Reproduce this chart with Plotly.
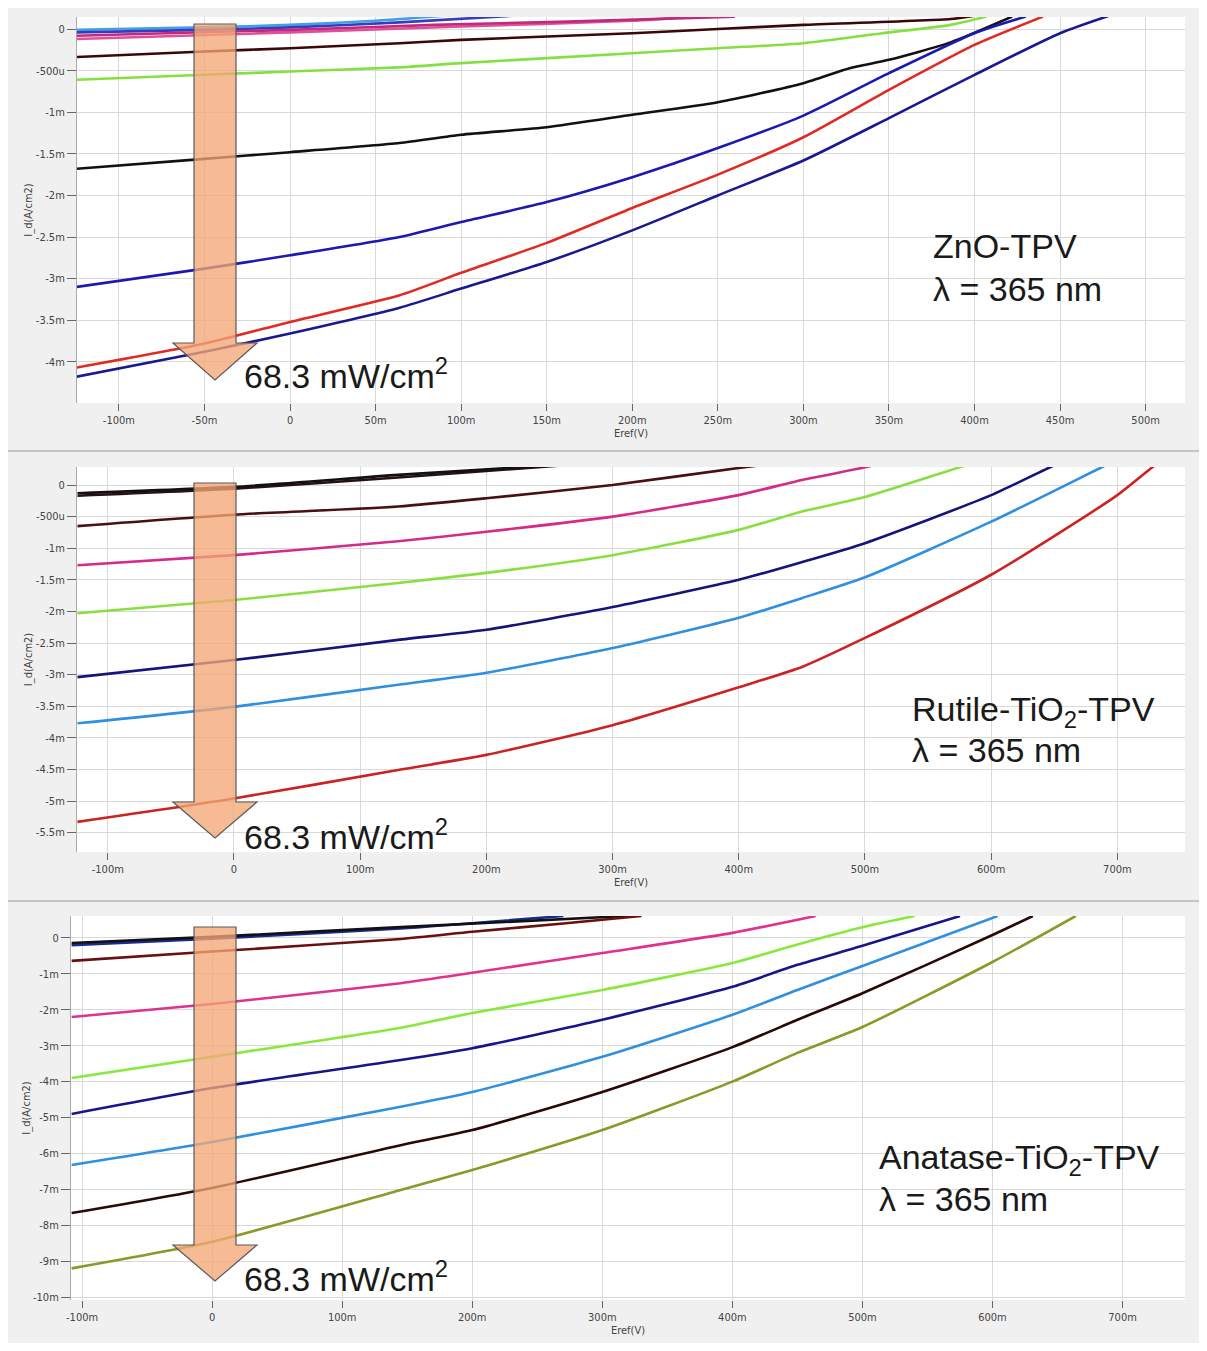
import numpy as np
import plotly.graph_objects as go

# page is 1207x1351; the html body keeps an 8px margin, so the figure is a bit smaller
PAGE_W, PAGE_H = 1207, 1351
OFF = 8
W, H = PAGE_W - 2 * OFF, PAGE_H - 2 * OFF

# ---------------- DATA (x in V, y in mA/cm2) ----------------
# ZnO-TPV panel
zno_lb_x = [-0.125, -0.05, 0.0, 0.05, 0.09]
zno_lb_y = [-0.01, 0.02, 0.05, 0.10, 0.16]
zno_bl_x = [-0.125, -0.05, 0.0, 0.064, 0.13]
zno_bl_y = [-0.04, -0.01, 0.02, 0.08, 0.16]
zno_mg_x = [-0.125, 0.0, 0.084, 0.162, 0.26]
zno_mg_y = [-0.08, -0.01, 0.05, 0.09, 0.15]
zno_pk_x = [-0.125, 0.0, 0.1, 0.2, 0.235]
zno_pk_y = [-0.12, -0.04, 0.03, 0.10, 0.15]
zno_mr_x = [-0.125, -0.05, 0.0, 0.064, 0.1, 0.2, 0.25, 0.3, 0.386, 0.40]
zno_mr_y = [-0.337, -0.27, -0.23, -0.17, -0.13, -0.05, 0.0, 0.05, 0.12, 0.16]
zno_gr_x = [-0.125, -0.05, 0.0, 0.064, 0.1, 0.2, 0.25, 0.3, 0.346, 0.386, 0.407]
zno_gr_y = [-0.61, -0.55, -0.51, -0.46, -0.41, -0.29, -0.23, -0.17, -0.05, 0.05, 0.15]
zno_bk_x = [-0.125, -0.05, 0.0, 0.064, 0.1, 0.15, 0.2, 0.25, 0.3, 0.327, 0.35, 0.386, 0.422]
zno_bk_y = [-1.68, -1.56, -1.48, -1.37, -1.27, -1.18, -1.03, -0.88, -0.65, -0.47, -0.37, -0.16, 0.15]
zno_b2_x = [-0.125, -0.05, 0.0, 0.064, 0.1, 0.15, 0.2, 0.25, 0.3, 0.35, 0.4, 0.43]
zno_b2_y = [-3.10, -2.88, -2.72, -2.50, -2.32, -2.08, -1.78, -1.43, -1.04, -0.53, -0.05, 0.15]
zno_rd_x = [-0.125, -0.05, 0.0, 0.064, 0.1, 0.15, 0.2, 0.25, 0.3, 0.35, 0.4, 0.44]
zno_rd_y = [-4.07, -3.78, -3.52, -3.20, -2.93, -2.57, -2.15, -1.75, -1.30, -0.73, -0.19, 0.15]
zno_db_x = [-0.125, -0.05, 0.0, 0.064, 0.1, 0.15, 0.2, 0.25, 0.3, 0.35, 0.4, 0.45, 0.48]
zno_db_y = [-4.18, -3.88, -3.66, -3.35, -3.12, -2.80, -2.42, -2.00, -1.58, -1.07, -0.55, -0.05, 0.17]

# Rutile-TiO2-TPV panel
ru_bk_x = [-0.124, 0.0, 0.13, 0.25]
ru_bk_y = [-0.13, -0.03, 0.16, 0.31]
ru_d2_x = [-0.124, 0.0, 0.13, 0.26]
ru_d2_y = [-0.17, -0.06, 0.12, 0.31]
ru_mr_x = [-0.124, 0.0, 0.13, 0.2, 0.3, 0.4, 0.42]
ru_mr_y = [-0.65, -0.47, -0.34, -0.21, 0.0, 0.27, 0.32]
ru_mg_x = [-0.124, 0.0, 0.13, 0.2, 0.3, 0.4, 0.45, 0.5, 0.51]
ru_mg_y = [-1.27, -1.11, -0.89, -0.74, -0.50, -0.16, 0.08, 0.28, 0.33]
ru_gr_x = [-0.124, 0.0, 0.13, 0.2, 0.3, 0.4, 0.45, 0.5, 0.575, 0.585]
ru_gr_y = [-2.03, -1.82, -1.55, -1.39, -1.11, -0.71, -0.42, -0.19, 0.28, 0.34]
ru_db_x = [-0.124, 0.0, 0.13, 0.2, 0.3, 0.4, 0.45, 0.5, 0.6, 0.647, 0.66]
ru_db_y = [-3.04, -2.77, -2.45, -2.29, -1.93, -1.50, -1.22, -0.92, -0.16, 0.285, 0.40]
ru_lb_x = [-0.124, 0.0, 0.13, 0.2, 0.3, 0.4, 0.45, 0.5, 0.6, 0.688, 0.70]
ru_lb_y = [-3.77, -3.51, -3.16, -2.97, -2.58, -2.10, -1.79, -1.46, -0.58, 0.285, 0.40]
ru_rd_x = [-0.124, 0.0, 0.13, 0.2, 0.3, 0.4, 0.45, 0.5, 0.6, 0.7, 0.728, 0.74]
ru_rd_y = [-5.33, -4.96, -4.51, -4.27, -3.80, -3.20, -2.88, -2.42, -1.42, -0.16, 0.285, 0.45]

# Anatase-TiO2-TPV panel
an_bl_x = [-0.108, 0.0, 0.145, 0.27]
an_bl_y = [-0.20, -0.02, 0.26, 0.61]
an_bk_x = [-0.108, 0.0, 0.145, 0.33]
an_bk_y = [-0.14, 0.03, 0.30, 0.63]
an_mr_x = [-0.108, 0.0, 0.145, 0.2, 0.27, 0.33]
an_mr_y = [-0.64, -0.38, -0.03, 0.17, 0.40, 0.61]
an_mg_x = [-0.108, 0.0, 0.145, 0.2, 0.3, 0.4, 0.464]
an_mg_y = [-2.20, -1.84, -1.26, -0.97, -0.42, 0.14, 0.61]
an_gr_x = [-0.108, 0.0, 0.145, 0.2, 0.3, 0.4, 0.45, 0.5, 0.54]
an_gr_y = [-3.90, -3.31, -2.50, -2.09, -1.45, -0.70, -0.18, 0.30, 0.61]
an_db_x = [-0.108, 0.0, 0.145, 0.2, 0.3, 0.4, 0.45, 0.5, 0.575]
an_db_y = [-4.90, -4.18, -3.40, -3.07, -2.28, -1.36, -0.75, -0.22, 0.61]
an_lb_x = [-0.108, 0.0, 0.145, 0.2, 0.3, 0.4, 0.45, 0.5, 0.604]
an_lb_y = [-6.32, -5.68, -4.70, -4.29, -3.31, -2.14, -1.45, -0.78, 0.61]
an_dm_x = [-0.108, 0.0, 0.145, 0.2, 0.3, 0.4, 0.45, 0.5, 0.6, 0.631]
an_dm_y = [-7.66, -6.96, -5.77, -5.35, -4.29, -3.04, -2.28, -1.54, 0.08, 0.61]
an_ol_x = [-0.108, 0.0, 0.145, 0.2, 0.3, 0.4, 0.45, 0.5, 0.6, 0.664]
an_ol_y = [-9.20, -8.46, -7.02, -6.46, -5.35, -4.00, -3.20, -2.48, -0.67, 0.61]

# tick labels
zno_xt = [-0.1, -0.05, 0, 0.05, 0.1, 0.15, 0.2, 0.25, 0.3, 0.35, 0.4, 0.45, 0.5]
zno_xl = ["-100m", "-50m", "0", "50m", "100m", "150m", "200m", "250m", "300m", "350m", "400m", "450m", "500m"]
zno_yt = [0, -0.5, -1, -1.5, -2, -2.5, -3, -3.5, -4]
zno_yl = ["0", "-500u", "-1m", "-1.5m", "-2m", "-2.5m", "-3m", "-3.5m", "-4m"]
ti_xt = [-0.1, 0, 0.1, 0.2, 0.3, 0.4, 0.5, 0.6, 0.7]
ti_xl = ["-100m", "0", "100m", "200m", "300m", "400m", "500m", "600m", "700m"]
ru_yt = [0, -0.5, -1, -1.5, -2, -2.5, -3, -3.5, -4, -4.5, -5, -5.5]
ru_yl = ["0", "-500u", "-1m", "-1.5m", "-2m", "-2.5m", "-3m", "-3.5m", "-4m", "-4.5m", "-5m", "-5.5m"]
an_yt = [0, -1, -2, -3, -4, -5, -6, -7, -8, -9, -10]
an_yl = ["0", "-1m", "-2m", "-3m", "-4m", "-5m", "-6m", "-7m", "-8m", "-9m", "-10m"]

# ---------------- FIGURE ----------------
def px(x):
    return (x - OFF) / W

def py(y):
    return 1 - (y - OFF) / H

fig = go.Figure()

def add(x, y, color, ax):
    fig.add_trace(go.Scatter(x=x, y=y, mode="lines", showlegend=False,
                             line=dict(color=color, width=2.6, shape="spline", smoothing=0.6),
                             xaxis="x" + ax, yaxis="y" + ax))

for x, y, c in [(zno_lb_x, zno_lb_y, "#3fa0e6"), (zno_bl_x, zno_bl_y, "#3a3ac0"),
                (zno_pk_x, zno_pk_y, "#e0509a"), (zno_mg_x, zno_mg_y, "#c02a7c"),
                (zno_mr_x, zno_mr_y, "#3a0808"), (zno_gr_x, zno_gr_y, "#84e040"),
                (zno_bk_x, zno_bk_y, "#111111"), (zno_b2_x, zno_b2_y, "#1a1ab0"),
                (zno_rd_x, zno_rd_y, "#e02a22"), (zno_db_x, zno_db_y, "#1a1a90")]:
    add(x, y, c, "")
for x, y, c in [(ru_d2_x, ru_d2_y, "#2a1010"), (ru_bk_x, ru_bk_y, "#111111"),
                (ru_mr_x, ru_mr_y, "#4a1010"), (ru_mg_x, ru_mg_y, "#d42a8a"),
                (ru_gr_x, ru_gr_y, "#88e040"), (ru_db_x, ru_db_y, "#14147a"),
                (ru_lb_x, ru_lb_y, "#2f8fe0"), (ru_rd_x, ru_rd_y, "#cc2222")]:
    add(x, y, c, "2")
for x, y, c in [(an_bl_x, an_bl_y, "#1a2a90"), (an_bk_x, an_bk_y, "#111111"),
                (an_mr_x, an_mr_y, "#6a1010"), (an_mg_x, an_mg_y, "#e03090"),
                (an_gr_x, an_gr_y, "#88e83c"), (an_db_x, an_db_y, "#16168a"),
                (an_lb_x, an_lb_y, "#3090e0"), (an_dm_x, an_dm_y, "#2a0808"),
                (an_ol_x, an_ol_y, "#8a9a28")]:
    add(x, y, c, "3")

tickfont = dict(family="DejaVu Sans Condensed, DejaVu Sans", size=11, color="#444")
titlefont = dict(family="DejaVu Sans Condensed, DejaVu Sans", size=11, color="#444")

def xax(rng, tv, tt, anchor, left=77):
    return dict(domain=[px(left), px(1185)], range=rng, tickvals=tv, ticktext=tt, anchor=anchor,
                showgrid=True, gridcolor="#d9d9d9", gridwidth=1, zeroline=False,
                ticks="outside", ticklen=7, tickcolor="#666", tickfont=tickfont,
                showline=False, automargin=False, fixedrange=True,
                title=dict(text="Eref(V)", font=titlefont, standoff=1))

def yax(dom, rng, tv, tt, anchor):
    return dict(domain=dom, range=rng, tickvals=tv, ticktext=tt, anchor=anchor,
                showgrid=True, gridcolor="#d9d9d9", gridwidth=1, zeroline=False,
                ticks="outside", ticklen=9, tickcolor="#666", tickfont=tickfont,
                showline=True, linecolor="#aaaaaa", automargin=False, fixedrange=True,
                title=dict(text="I_d(A/cm2)", font=titlefont, standoff=0))

fig.update_layout(
    width=W, height=H, margin=dict(l=0, r=0, t=0, b=0),
    paper_bgcolor="#f0f0f0", plot_bgcolor="white",
    xaxis=xax([-0.1245, 0.523], zno_xt, zno_xl, "y"),
    yaxis=yax([py(403), py(17)], [-4.495, 0.145], zno_yt, zno_yl, "x"),
    xaxis2=xax([-0.1244, 0.7536], ti_xt, ti_xl, "y2"),
    yaxis2=yax([py(852), py(467)], [-5.807, 0.285], ru_yt, ru_yl, "x2"),
    xaxis3=xax([-0.1085, 0.748], ti_xt, ti_xl, "y3", left=71),
    yaxis3=yax([py(1300), py(916)], [-10.08, 0.61], an_yt, an_yl, "x3"),
)

# panel separators
shapes = []
for yy in [451, 901]:
    shapes.append(dict(type="line", xref="paper", yref="paper", x0=0, x1=1, y0=py(yy), y1=py(yy),
                       line=dict(color="#c4c4c4", width=2)))

# block arrows
def arrow(top, base, tip):
    pts = [(194, top), (236, top), (236, base), (257, base), (215, tip), (173, base), (194, base)]
    path = "M " + " L ".join(f"{px(a):.5f},{py(b):.5f}" for a, b in pts) + " Z"
    return dict(type="path", xref="paper", yref="paper", path=path,
                fillcolor="rgba(243,168,118,0.78)", line=dict(color="#5a5a5a", width=1.2))

shapes += [arrow(24, 343, 380), arrow(483, 802, 838), arrow(927, 1245, 1281)]
fig.update_layout(shapes=shapes)

big = dict(family="Liberation Sans, Arial", size=34, color="#1a1a1a")
ann = []
def txt(x, y, s):
    ann.append(dict(text=s, x=px(x), y=py(y), xref="paper", yref="paper",
                    xanchor="left", yanchor="middle", showarrow=False, font=big))

for y in [374, 834, 1276]:
    txt(242, y, "68.3 mW/cm<sup>2</sup>")
txt(931, 246, "ZnO-TPV")
txt(931, 289, "λ = 365 nm")
txt(910, 711, "Rutile-TiO<sub>2</sub>-TPV")
txt(910, 750, "λ = 365 nm")
txt(877, 1159, "Anatase-TiO<sub>2</sub>-TPV")
txt(877, 1199, "λ = 365 nm")
fig.update_layout(annotations=ann)

fig.write_html("out.html")
